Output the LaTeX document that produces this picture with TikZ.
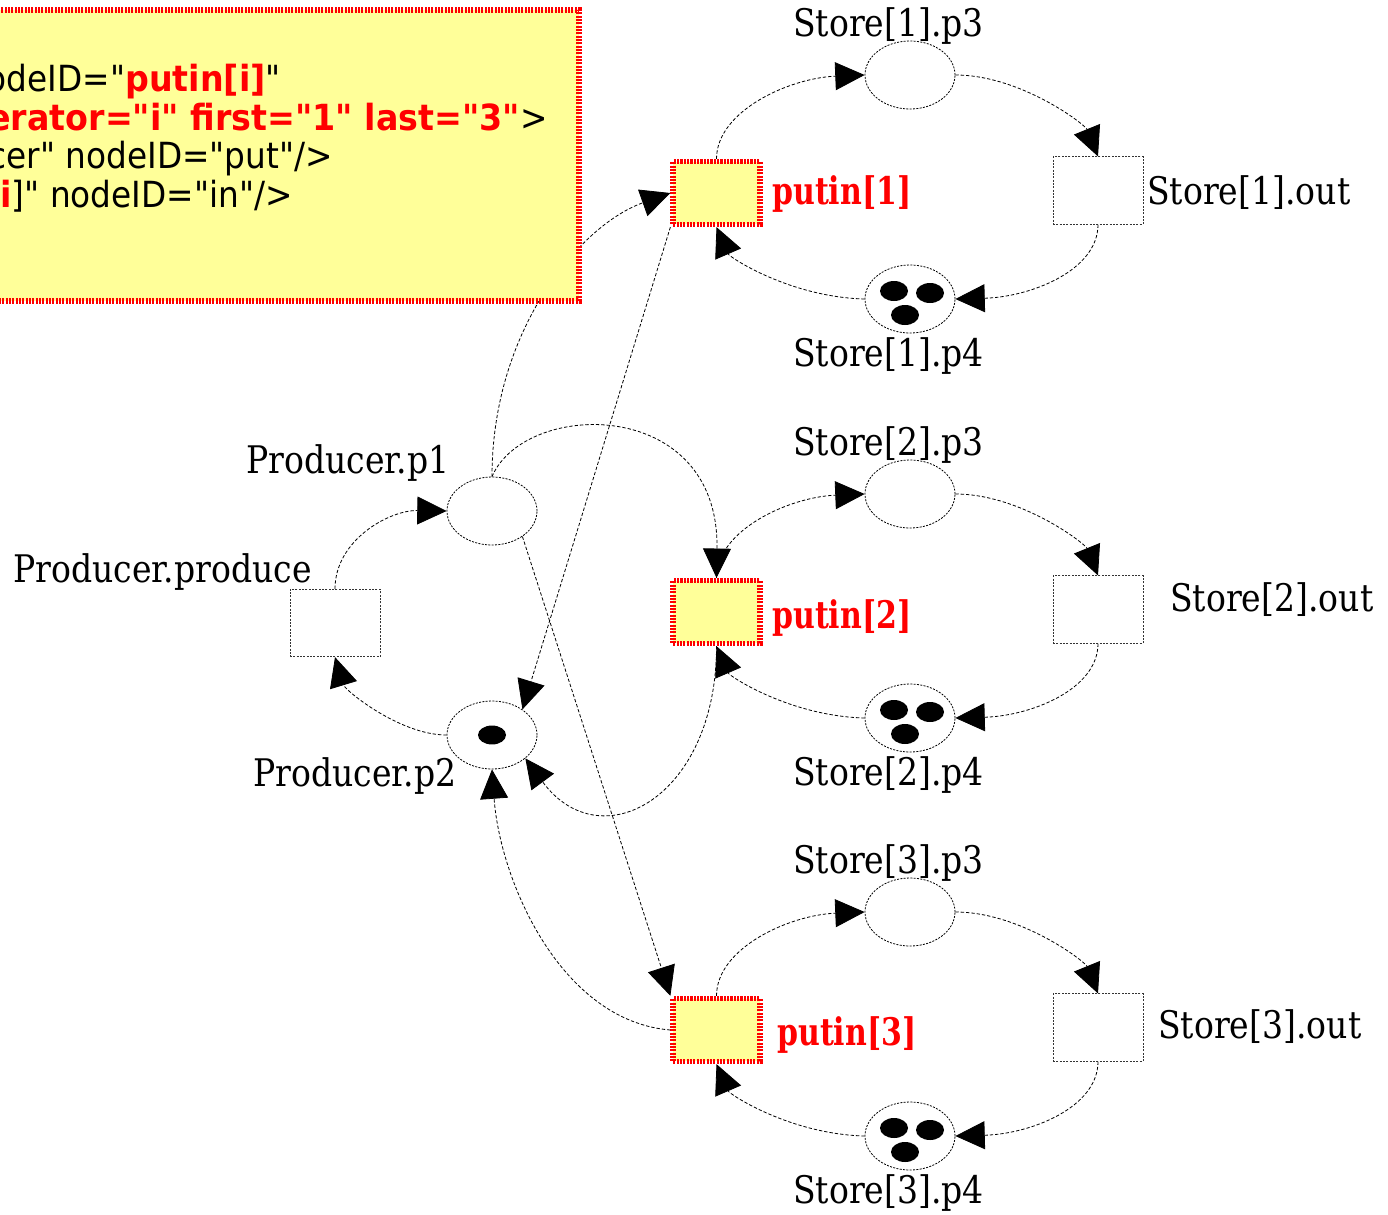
\documentclass[tikz,border=0pt]{standalone}
\usepackage{fontspec}
\usetikzlibrary{arrows.meta,shapes.geometric}
\newfontfamily\lblfont[FakeStretch=0.87]{DejaVu Serif}
\newfontfamily\hotfont[FakeStretch=0.79]{DejaVu Serif}
\newfontfamily\notefont[FakeStretch=0.91]{DejaVu Sans}
\newfontfamily\noteboldfont[FakeStretch=0.925]{DejaVu Sans}
\definecolor{noteyellow}{HTML}{FFFF99}

\begin{document}
\begin{tikzpicture}[x=0.75pt,y=-0.75pt,
  place/.style={ellipse,draw,line width=0.6pt,dash pattern=on 1.5pt off 1pt,
    minimum width=67.5pt,minimum height=51pt,inner sep=0pt},
  trans/.style={rectangle,draw=black!80,line width=0.6pt,dash pattern=on 1.5pt off 1pt,
    minimum width=67.5pt,minimum height=50.5pt,inner sep=0pt},
  hotborder/.style={draw=red,line width=4.2pt,dash pattern=on 1.6pt off 0.9pt},
  hottrans/.style={rectangle,hotborder,fill=noteyellow,
    minimum width=65pt,minimum height=47pt,inner sep=0pt},
  arc/.style={draw,line width=0.6pt,dash pattern=on 2.5pt off 1.5pt,
    -{Triangle[length=22pt,width=21pt]}},
  lbl/.style={font=\lblfont\fontsize{28.5pt}{32pt}\selectfont,inner sep=0pt,anchor=base west},
  hotlbl/.style={lbl,text=red,font=\hotfont\bfseries\fontsize{28.5pt}{32pt}\selectfont},
  notetext/.style={font=\notefont\fontsize{27pt}{30pt}\selectfont,inner sep=0pt,anchor=base east},
  token/.style={fill=black}
]
\useasboundingbox (0,0) rectangle (1388,1214);
\clip (0,0) rectangle (1388,1214);

% ---- producer ----
\node[place] (p1) at (492,511) {};
\node[place] (p2) at (492,735) {};
\node[trans] (prod) at (335,623) {};
\fill[token] (p2.center) ellipse [x radius=10.5pt,y radius=7.1pt];

\node[lbl] (lprod) at (13,582) {Producer.produce};
\node[lbl] (lp1) at (246,473) {Producer.p1};
\node[lbl] (lp2) at (253,786) {Producer.p2};

% ---- the three stores ----
\foreach \k/\o/\outx/\outy/\hx/\hy in
  {1/0/1147/204/772/204, 2/419/1170/611/772/628, 3/837/1158/1038/777/1045}{
  \node[hottrans] (putin\k) at (716.5,193+\o) {};
  \node[place] (sp3\k) at (910,75+\o) {};
  \node[trans] (sout\k) at (1098,190.5+\o) {};
  \node[place] (sp4\k) at (910,299+\o) {};
  \fill[token] ([shift={(-16,-8)}]sp4\k.center) ellipse [x radius=10.5pt,y radius=7.5pt];
  \fill[token] ([shift={(20,-6)}]sp4\k.center) ellipse [x radius=10.5pt,y radius=7.5pt];
  \fill[token] ([shift={(-5,16)}]sp4\k.center) ellipse [x radius=10.5pt,y radius=7.5pt];

  \node[lbl] (lsp3\k) at (793,36+\o) {Store[\k].p3};
  \node[lbl] (lsp4\k) at (793,366+\o) {Store[\k].p4};
  \node[lbl] (lsout\k) at (\outx,\outy) {Store[\k].out};
  \node[hotlbl] (lputin\k) at (\hx,\hy) {putin[\k]};

  \draw[arc] (putin\k.north) .. controls +(0,-48) and +(-75,3) .. (sp3\k.west);
  \draw[arc] (sp3\k.east) .. controls +(65,0) and +(-13,-32) .. (sout\k.north);
  \draw[arc] (sout\k.south) .. controls +(0,46) and +(75,-2) .. (sp4\k.east);
  \draw[arc] (sp4\k.west) .. controls +(-75,-2) and +(13,30) .. (putin\k.south);
}

% ---- producer arcs ----
\draw[arc] (prod.north) .. controls +(0,-49) and +(-57,-1) .. (p1.west);
\draw[arc] (p2.west) .. controls +(-47,0) and +(10,33) .. (prod.south);
\draw[arc] (p1.north) .. controls +(0,-147) and +(-90,32) .. (putin1.west);
\draw[arc] (p1.north) .. controls +(33,-77) and +(3,-182) .. (putin2.north);
\draw[arc] (p1.-40) -- (putin3.north west);
\draw[arc] (putin1.south west) -- (p2.40);
\draw[arc] (putin2.south) .. controls +(0,152) and +(75,102) .. (p2.-35);
\draw[arc] (putin3.west) .. controls +(-110,-9) and +(8,111) .. (p2.south);

% ---- XML note ----
\draw[hotborder,fill=noteyellow] (-40,10) rectangle (579,301);
\node[notetext] (note1) at (281,91.5) {odeID="\textcolor{red}{\noteboldfont\bfseries putin[i]}"};
\node[notetext] (note2) at (548,130) {\textcolor{red}{\noteboldfont\bfseries erator="i" first="1" last="3"}>};
\node[notetext] (note3) at (333,168.5) {cer" nodeID="put"/>};
\node[notetext] (note4) at (293,207) {\textcolor{red}{\noteboldfont\bfseries i}]" nodeID="in"/>};
\end{tikzpicture}
\end{document}
